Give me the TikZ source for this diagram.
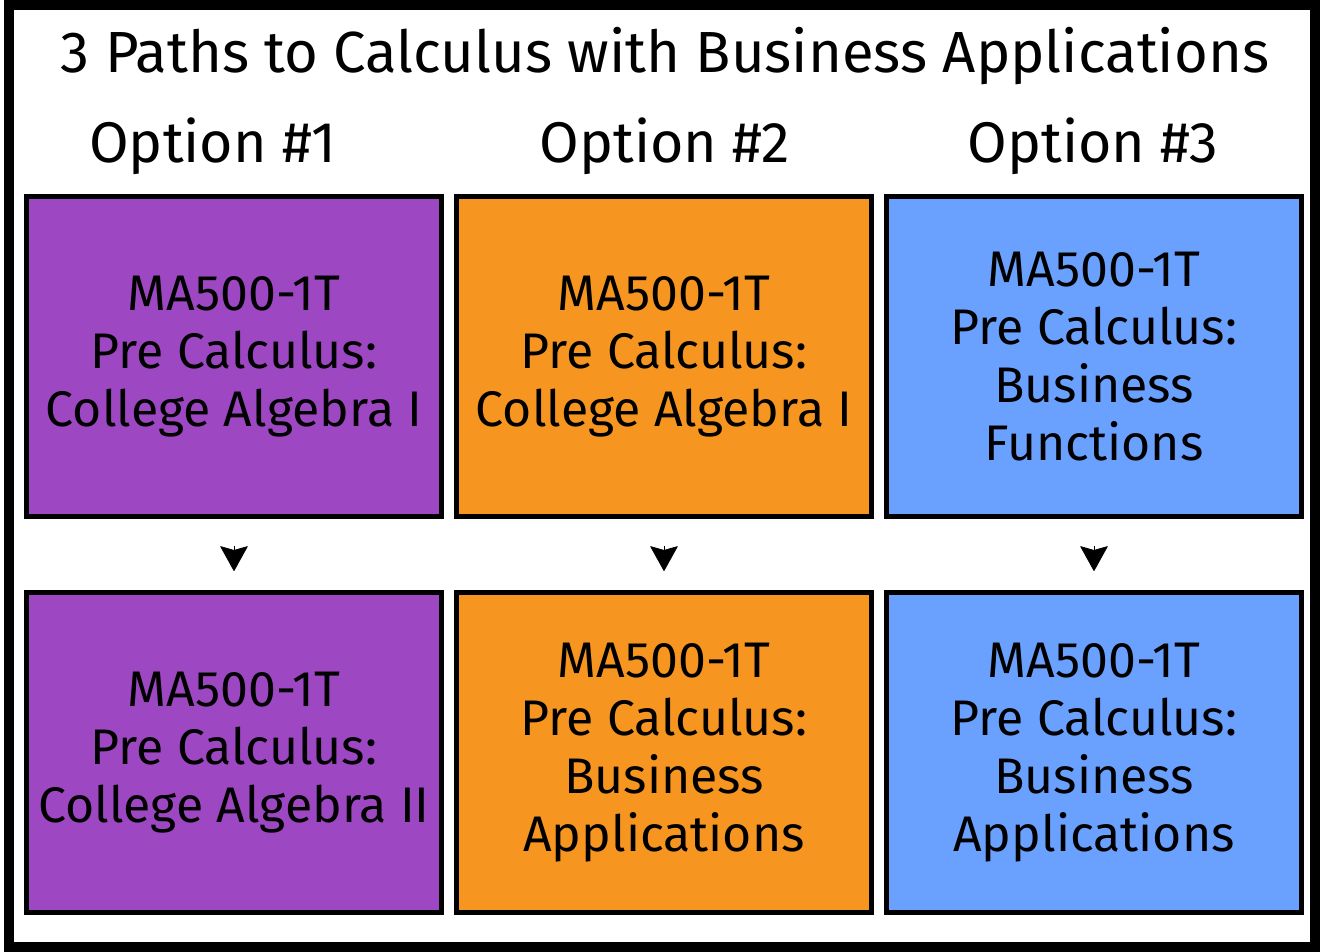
\documentclass[tikz,border=0pt]{standalone}
\usepackage{fontspec}
\setmainfont{Fira Sans}
\usetikzlibrary{arrows.meta, positioning}
\definecolor{optpurple}{RGB}{158, 71, 195}
\definecolor{optorange}{RGB}{246, 149, 32}
\definecolor{optblue}{RGB}{106, 161, 255}

\begin{document}
\begin{tikzpicture}[
    x=0.75pt, y=-0.75pt,
    course/.style={
      rectangle, draw=black, line width=3.75pt,
      minimum width=311.25pt, minimum height=240pt, align=center,
      font=\fontsize{37.5}{43.5}\selectfont, text=black
    },
    heading/.style={anchor=base, font=\fontsize{43}{48}\selectfont},
    arr/.style={-{Stealth[length=19pt, width=21pt, inset=3pt, round]},
      line width=0.5pt, shorten <=20pt, shorten >=14.25pt}
]
  \useasboundingbox (0,0) rectangle (1336,951);
  \draw[line width=7.5pt] (9,4.5) rectangle (1315,947);

  \node[anchor=base, font=\fontsize{43.5}{48}\selectfont] (title) at (665,72)
    {3 Paths to Calculus with Business Applications};

  % Top row
  \node[course, fill=optpurple] (pre1) at (234,356.5)
    {MA500-1T\\Pre Calculus:\\College Algebra I};
  \node[course, fill=optorange, right=7.5pt of pre1] (pre2)
    {MA500-1T\\Pre Calculus:\\College Algebra I};
  \node[course, fill=optblue, right=7.5pt of pre2] (pre3)
    {MA500-1T\\Pre Calculus:\\Business\\Functions};

  % Bottom row
  \node[course, fill=optpurple, below=53.25pt of pre1] (calc1)
    {MA500-1T\\Pre Calculus:\\College Algebra II};
  \node[course, fill=optorange, below=53.25pt of pre2] (calc2)
    {MA500-1T\\Pre Calculus:\\Business\\Applications};
  \node[course, fill=optblue, below=53.25pt of pre3] (calc3)
    {MA500-1T\\Pre Calculus:\\Business\\Applications};

  % Option headings
  \node[heading] (opt1) at (213,162) {Option \#1};
  \node[heading] (opt2) at (665,162) {Option \#2};
  \node[heading] (opt3) at (1093,162) {Option \#3};

  % Arrows
  \draw[arr] (pre1) -- (calc1);
  \draw[arr] (pre2) -- (calc2);
  \draw[arr] (pre3) -- (calc3);
\end{tikzpicture}
\end{document}
